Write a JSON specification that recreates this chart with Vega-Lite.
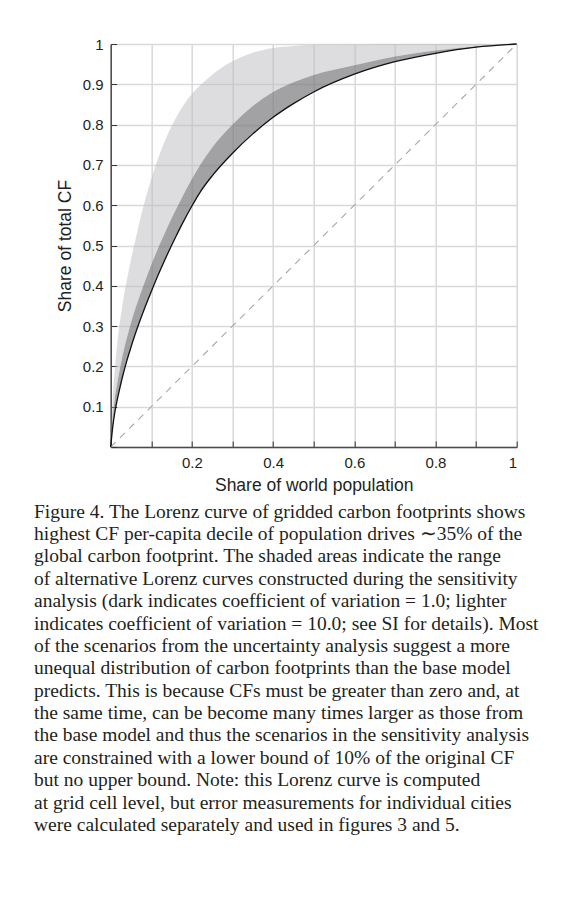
{
  "$schema": "https://vega.github.io/schema/vega-lite/v6.json",
  "autosize": "none",
  "padding": {"left": 110.7, "top": 44, "right": 44.3, "bottom": 452},
  "width": 406,
  "height": 403,
  "background": "white",
  "config": {
    "view": {"stroke": null},
    "font": "Liberation Sans"
  },
  "title": {
    "text": [
      "Figure 4. The Lorenz curve of gridded carbon footprints shows",
      "highest CF per-capita decile of population drives ∼35% of the",
      "global carbon footprint. The shaded areas indicate the range",
      "of alternative Lorenz curves constructed during the sensitivity",
      "analysis (dark indicates coefficient of variation = 1.0; lighter",
      "indicates coefficient of variation = 10.0; see SI for details). Most",
      "of the scenarios from the uncertainty analysis suggest a more",
      "unequal distribution of carbon footprints than the base model",
      "predicts. This is because CFs must be greater than zero and, at",
      "the same time, can be become many times larger as those from",
      "the base model and thus the scenarios in the sensitivity analysis",
      "are constrained with a lower bound of 10% of the original CF",
      "but no upper bound. Note: this Lorenz curve is computed",
      "at grid cell level, but error measurements for individual cities",
      "were calculated separately and used in figures 3 and 5."
    ],
    "orient": "bottom",
    "anchor": "start",
    "frame": "group",
    "dx": -76.7,
    "offset": 9,
    "font": "Liberation Serif",
    "fontSize": 19.5,
    "fontWeight": "normal",
    "color": "#231f20",
    "lineHeight": 22.4,
    "baseline": "top"
  },
  "datasets": {
    "lorenz": [
      {"p": 0, "base": 0, "dark": 0, "light": 0},
      {"p": 0.005, "base": 0.05, "dark": 0.075, "light": 0.12},
      {"p": 0.01, "base": 0.085, "dark": 0.12, "light": 0.19},
      {"p": 0.015, "base": 0.112, "dark": 0.152, "light": 0.245},
      {"p": 0.02, "base": 0.135, "dark": 0.18, "light": 0.29},
      {"p": 0.03, "base": 0.178, "dark": 0.23, "light": 0.36},
      {"p": 0.04, "base": 0.215, "dark": 0.272, "light": 0.415},
      {"p": 0.05, "base": 0.248, "dark": 0.308, "light": 0.465},
      {"p": 0.06, "base": 0.279, "dark": 0.341, "light": 0.51},
      {"p": 0.08, "base": 0.335, "dark": 0.399, "light": 0.595},
      {"p": 0.1, "base": 0.386, "dark": 0.452, "light": 0.665},
      {"p": 0.12, "base": 0.434, "dark": 0.501, "light": 0.725},
      {"p": 0.14, "base": 0.479, "dark": 0.546, "light": 0.775},
      {"p": 0.16, "base": 0.521, "dark": 0.588, "light": 0.815},
      {"p": 0.18, "base": 0.561, "dark": 0.628, "light": 0.849},
      {"p": 0.2, "base": 0.598, "dark": 0.665, "light": 0.876},
      {"p": 0.22, "base": 0.632, "dark": 0.699, "light": 0.897},
      {"p": 0.25, "base": 0.673, "dark": 0.743, "light": 0.924},
      {"p": 0.3, "base": 0.729, "dark": 0.8, "light": 0.957},
      {"p": 0.35, "base": 0.777, "dark": 0.846, "light": 0.978},
      {"p": 0.4, "base": 0.818, "dark": 0.881, "light": 0.99},
      {"p": 0.45, "base": 0.852, "dark": 0.905, "light": 0.995},
      {"p": 0.5, "base": 0.881, "dark": 0.923, "light": 0.998},
      {"p": 0.6, "base": 0.925, "dark": 0.947, "light": 0.999},
      {"p": 0.7, "base": 0.956, "dark": 0.969, "light": 1},
      {"p": 0.8, "base": 0.977, "dark": 0.984, "light": 1},
      {"p": 0.9, "base": 0.992, "dark": 0.994, "light": 1},
      {"p": 1, "base": 1, "dark": 1, "light": 1}
    ],
    "equality": [
      {"p": 0, "share": 0},
      {"p": 1, "share": 1}
    ]
  },
  "encoding": {
    "x": {
      "field": "p",
      "type": "quantitative",
      "scale": {"domain": [0, 1], "nice": false, "zero": false},
      "axis": {
        "title": "Share of world population",
        "values": [0, 0.1, 0.2, 0.3, 0.4, 0.5, 0.6, 0.7, 0.8, 0.9, 1],
        "labelExpr": "(datum.value < 0.05 || round(datum.value * 10) % 2 == 1) ? '' : format(datum.value, '~g')",
        "grid": true,
        "gridColor": "#d9d9d9",
        "gridWidth": 1.5,
        "domainColor": "#4a4a4a",
        "domainWidth": 1.5,
        "tickColor": "#333333",
        "tickWidth": 1,
        "tickSize": -6,
        "labelFont": "Liberation Sans",
        "labelFontSize": 15,
        "labelColor": "#231f20",
        "labelPadding": 14,
        "titleFont": "Liberation Sans",
        "titleFontSize": 17.5,
        "titleFontWeight": "normal",
        "titleColor": "#231f20",
        "titlePadding": 6
      }
    },
    "y": {
      "field": "base",
      "type": "quantitative",
      "scale": {"domain": [0, 1], "nice": false, "zero": false},
      "axis": {
        "title": "Share of total CF",
        "values": [0, 0.1, 0.2, 0.3, 0.4, 0.5, 0.6, 0.7, 0.8, 0.9, 1],
        "labelExpr": "datum.value < 0.05 ? '' : format(datum.value, '~g')",
        "grid": true,
        "gridColor": "#d9d9d9",
        "gridWidth": 1.5,
        "domainColor": "#4a4a4a",
        "domainWidth": 1.5,
        "tickColor": "#333333",
        "tickWidth": 1,
        "tickSize": -6,
        "labelFont": "Liberation Sans",
        "labelFontSize": 15,
        "labelColor": "#231f20",
        "labelPadding": 13.5,
        "titleFont": "Liberation Sans",
        "titleFontSize": 17.5,
        "titleFontWeight": "normal",
        "titleColor": "#231f20",
        "titlePadding": 8
      }
    }
  },
  "layer": [
    {
      "data": {"name": "lorenz"},
      "mark": {"type": "area", "interpolate": "monotone", "color": "#bbbbc0", "opacity": 0.5},
      "encoding": {
        "y": {"field": "light", "type": "quantitative"},
        "y2": {"field": "dark"}
      }
    },
    {
      "data": {"name": "lorenz"},
      "mark": {"type": "area", "interpolate": "monotone", "color": "#7a7a7e", "opacity": 0.7},
      "encoding": {
        "y": {"field": "dark", "type": "quantitative"},
        "y2": {"field": "base"}
      }
    },
    {
      "data": {"name": "equality"},
      "mark": {"type": "line", "color": "#a8a8a8", "strokeWidth": 1.1, "strokeDash": [7, 6]},
      "encoding": {
        "y": {"field": "share", "type": "quantitative"}
      }
    },
    {
      "data": {"name": "lorenz"},
      "mark": {"type": "line", "interpolate": "monotone", "color": "#111111", "strokeWidth": 1.3},
      "encoding": {}
    }
  ]
}
